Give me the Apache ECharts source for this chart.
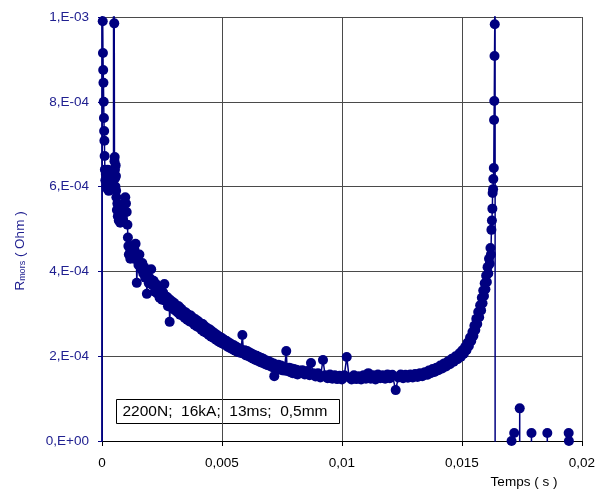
<!DOCTYPE html>
<html>
<head>
<meta charset="utf-8">
<script src="https://cdn.jsdelivr.net/npm/echarts@6/dist/echarts.min.js"></script>
<style>html,body{margin:0;padding:0;background:#fff;}#c{width:598px;height:490px;}</style>
</head>
<body>
<div id="c"></div>
<script>
// Time in milliseconds, resistance in micro-ohms.
// Values of +/-5000 are off-scale samples that the original clips at the plot edges.
const TIME_MS = [
  0.00, 0.01, 0.03, 0.04, 0.05, 0.06, 0.07, 0.08, 0.09, 0.10, 0.11, 0.12, 0.14, 0.16, 0.18, 0.20,
  0.22, 0.24, 0.26, 0.28, 0.30, 0.33, 0.36, 0.40, 0.44, 0.48, 0.50, 0.51, 0.52, 0.53, 0.54, 0.55,
  0.56, 0.57, 0.58, 0.59, 0.60, 0.62, 0.64, 0.66, 0.68, 0.70, 0.73, 0.76, 0.79, 0.82, 0.85, 0.88,
  0.91, 0.94, 0.97, 1.00, 1.03, 1.06, 1.08, 1.10, 1.12, 1.15, 1.18, 1.20, 1.23, 1.26, 1.30, 1.33,
  1.36, 1.40, 1.43, 1.45, 1.48, 1.52, 1.56, 1.60, 1.64, 1.68, 1.72, 1.76, 1.80, 1.84, 1.87,
  1.90, 1.95, 2.00, 2.05, 2.10, 2.15, 2.20, 2.25, 2.30, 2.35, 2.40, 2.45, 2.50, 2.55, 2.60, 2.65,
  2.70, 2.75, 2.80, 2.82, 2.85, 2.90, 2.95, 3.00, 3.05, 3.10, 3.15, 3.20, 3.25, 3.30, 3.35, 3.40,
  3.45, 3.50, 3.55, 3.60, 3.65, 3.70, 3.75, 3.80, 3.85, 3.90, 3.95, 4.00, 4.05, 4.10, 4.15, 4.20,
  4.25, 4.30, 4.35, 4.40, 4.45, 4.50, 4.55, 4.60, 4.65, 4.70, 4.75, 4.80, 4.85, 4.90, 4.95, 5.00,
  5.05, 5.10, 5.15, 5.20, 5.25, 5.30, 5.35, 5.40, 5.45, 5.50, 5.55, 5.60, 5.65, 5.70, 5.75, 5.80,
  5.85, 5.90, 5.95, 6.00, 6.05, 6.10, 6.15, 6.20, 6.25, 6.30, 6.35, 6.40, 6.45, 6.50, 6.55, 6.60,
  6.65, 6.70, 6.75, 6.80, 6.85, 6.90, 6.95, 7.00, 7.05, 7.10, 7.15, 7.18, 7.22, 7.30, 7.35, 7.40,
  7.45, 7.50, 7.55, 7.60, 7.68, 7.72, 7.80, 7.85, 7.90, 7.95, 8.00, 8.05, 8.10, 8.15, 8.20,
  8.25, 8.35, 8.45, 8.55, 8.65, 8.71, 8.80, 8.90, 9.00, 9.10, 9.21, 9.30, 9.40, 9.50, 9.60, 9.70,
  9.80, 9.90, 10.00, 10.10, 10.20, 10.30, 10.40, 10.50, 10.60, 10.70, 10.80, 10.90, 11.00, 11.10, 11.20, 11.30,
  11.40, 11.50, 11.60, 11.70, 11.80, 11.90, 12.00, 12.10, 12.24, 12.35, 12.45, 12.55, 12.65, 12.75, 12.85, 12.95,
  13.05, 13.15, 13.25, 13.35, 13.45, 13.55, 13.62, 13.70, 13.78, 13.86, 13.94, 14.02, 14.10, 14.18, 14.26, 14.34,
  14.42, 14.50, 14.58, 14.66, 14.74, 14.82, 14.90, 14.96, 15.02, 15.08, 15.14, 15.19, 15.24, 15.29, 15.34, 15.39,
  15.44, 15.48, 15.52, 15.56, 15.60, 15.64, 15.68, 15.72, 15.76, 15.80, 15.83, 15.86, 15.89, 15.92, 15.95, 15.98,
  16.01, 16.04, 16.07, 16.10, 16.13, 16.16, 16.19, 16.21, 16.23, 16.25, 16.27, 16.28, 16.30, 16.31, 16.33, 16.34,
  16.35, 16.36, 16.37, 16.38, 16.39, 17.07, 17.18, 17.19, 17.41, 17.42, 17.90, 17.91, 18.56, 18.57, 19.45, 19.46
];
const R_UOHM = [
  -5000, 5000, 990, 915, 875, 845, 800, 762, 731, 708, 672, 640, 615, 630, 600, 620,
  595, 640, 610, 590, 625, 600, 615, 605, 630, 640, 5000, 985, 660, 670, 640, 620,
  600, 650, 625, 590, 575, 545, 560, 530, 550, 520, 545, 515, 540, 525, 550, 520,
  545, 560, 575, 560, 540, 510, 480, 460, 440, 455, 430, 445, 460, 440, 455, 430,
  450, 465, 440, 373, 430, 415, 440, 420, 405, 420, 395, 410, 385, 400, 347,
  388, 372, 384, 405, 368, 378, 352, 370, 348, 362, 338, 355, 333, 350, 370, 330,
  340, 318, 335, 281, 318, 330, 312, 326, 308, 320, 303, 318, 298, 312, 296, 306,
  290, 303, 286, 298, 282, 296, 280, 290, 274, 287, 270, 283, 268, 278, 262, 276,
  258, 270, 255, 266, 250, 263, 246, 258, 243, 254, 239, 250, 235, 246, 232, 243,
  229, 239, 226, 236, 222, 232, 219, 228, 216, 226, 213, 222, 210, 219, 208, 216,
  250, 206, 214, 202, 212, 200, 209, 197, 206, 194, 203, 191, 201, 189, 198, 186,
  196, 184, 193, 181, 190, 179, 188, 177, 185, 174, 183, 153, 180, 171, 180, 169,
  178, 167, 176, 166, 212, 165, 173, 162, 171, 160, 170, 159, 168, 157, 166,
  160, 167, 157, 165, 155, 184, 160, 152, 160, 150, 191, 155, 148, 157, 147, 155,
  146, 154, 145, 155, 198, 150, 145, 155, 146, 153, 145, 155, 147, 160, 147, 155,
  145, 157, 148, 155, 147, 157, 148, 156, 120, 150, 157, 148, 156, 149, 157, 150,
  158, 151, 160, 153, 162, 156, 166, 160, 170, 163, 173, 167, 178, 171, 183, 176,
  188, 181, 194, 187, 200, 193, 207, 199, 214, 206, 222, 214, 232, 224, 244, 236,
  257, 248, 272, 262, 288, 276, 304, 292, 320, 308, 338, 325, 355, 342, 372, 358,
  390, 375, 410, 395, 430, 418, 455, 440, 498, 520, 548, 585, 594, 618, 644, 757,
  802, 908, 983, 5000, -5000, 0, 19, -5000, 77, -5000, 19, -5000, 19, -5000, 19, 0
];
const X_TICK_LABELS = ['0', '0,005', '0,01', '0,015', '0,02'];
const Y_TICK_LABELS = ['0,E+00', '2,E-04', '4,E-04', '6,E-04', '8,E-04', '1,E-03'];
const ANNOTATION = '2200N;  16kA;  13ms;  0,5mm';

const seriesData = TIME_MS.map((t, i) => [t / 1000, R_UOHM[i] / 1e6]);
const NAVY = '#000080';
const LABEL_BLUE = '#202090';
const FONT = 'Liberation Sans, Arial, sans-serif';

const chart = echarts.init(document.getElementById('c'), null, {renderer: 'canvas'});
chart.setOption({
  animation: false,
  backgroundColor: '#ffffff',
  grid: {left: 102, right: 14, top: 17, bottom: 49, containLabel: false},
  xAxis: {
    type: 'value', min: 0, max: 0.02, interval: 0.005,
    axisLine: {show: true, onZero: false, lineStyle: {color: '#000', width: 1}},
    axisTick: {show: true, inside: false, length: 5, lineStyle: {color: '#000'}},
    axisLabel: {
      color: '#000', fontFamily: FONT, fontSize: 13.5, margin: 15,
      formatter: v => X_TICK_LABELS[Math.round(v / 0.005)]
    },
    splitLine: {show: true, lineStyle: {color: '#4a4a4a', width: 1}}
  },
  yAxis: {
    type: 'value', min: 0, max: 0.001, interval: 0.0002,
    axisLine: {show: true, onZero: false, lineStyle: {color: NAVY, width: 1.5}},
    axisTick: {show: true, inside: false, length: 4, lineStyle: {color: NAVY}},
    axisLabel: {
      color: LABEL_BLUE, fontFamily: FONT, fontSize: 13.5, margin: 13,
      formatter: v => Y_TICK_LABELS[Math.round(v / 0.0002)]
    },
    splitLine: {show: true, lineStyle: {color: '#4a4a4a', width: 1}}
  },
  series: [{
    type: 'line',
    data: seriesData,
    clip: true,
    symbol: 'circle',
    symbolSize: 10,
    showAllSymbol: true,
    itemStyle: {color: NAVY},
    lineStyle: {color: NAVY, width: 1.5},
    z: 3
  }],
  graphic: [
    {
      type: 'group', left: 116, top: 399, z: 10,
      children: [
        {type: 'rect', shape: {x: 0, y: 0, width: 223, height: 24},
         style: {fill: '#fff', stroke: '#000', lineWidth: 1}},
        {type: 'text', x: 6, y: 12,
         style: {text: ANNOTATION, fill: '#000', font: '15.5px ' + FONT, align: 'left', verticalAlign: 'middle'}}
      ]
    },
    {
      type: 'text', x: 524, y: 482, z: 10,
      style: {text: 'Temps ( s )', fill: '#000', font: '13.5px ' + FONT, align: 'center', verticalAlign: 'middle'}
    },
    {
      type: 'text', x: 20, y: 251, rotation: Math.PI / 2, z: 10,
      style: {
        text: '{a|R}{s|mors}{a| ( Ohm )}',
        align: 'center', verticalAlign: 'middle', fill: LABEL_BLUE,
        rich: {
          a: {fontSize: 13.5, fontFamily: FONT, fill: LABEL_BLUE, verticalAlign: 'bottom'},
          s: {fontSize: 9, fontFamily: FONT, fill: LABEL_BLUE, verticalAlign: 'bottom'}
        }
      }
    }
  ]
});
</script>
</body>
</html>
